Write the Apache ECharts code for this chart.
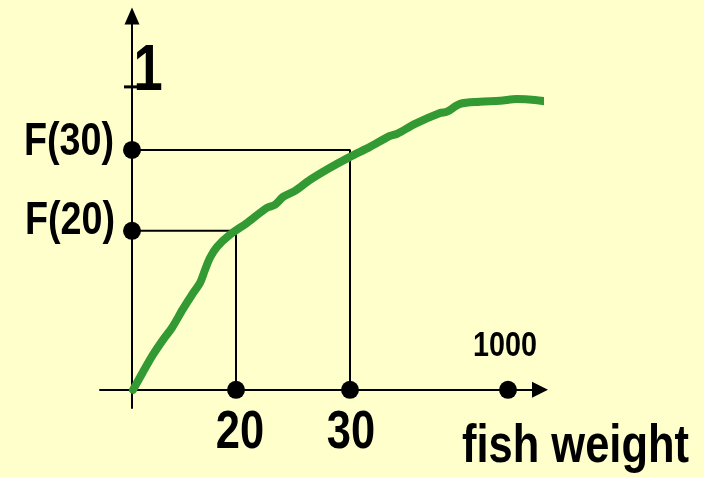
<!DOCTYPE html>
<html>
<head>
<meta charset="utf-8">
<script src="https://cdn.jsdelivr.net/npm/echarts@6/dist/echarts.min.js"></script>
<style>
html,body{margin:0;padding:0;background:#FFFFCC;}
#c{width:704px;height:477px;}
</style>
</head>
<body>
<div id="c"></div>
<script>
// Schematic CDF of fish weight (x in schematic axis units, y = cumulative probability)
var curveX = [1, 11, 21, 31, 40, 51, 60, 68, 73, 78, 85, 98, 115, 135, 143, 151, 163, 178, 198, 218, 238, 258, 265, 283, 308, 315, 328, 348, 368, 385, 403, 418];
var curveY = [0, 0.059, 0.116, 0.165, 0.205, 0.267, 0.314, 0.353, 0.396, 0.436, 0.472, 0.512, 0.551, 0.601, 0.611, 0.637, 0.657, 0.693, 0.733, 0.769, 0.802, 0.838, 0.845, 0.878, 0.914, 0.918, 0.944, 0.951, 0.954, 0.960, 0.957, 0.950];

// x-axis marked weights (schematic positions) and their labels
var xMarkPos = [104, 218, 376];
var xMarkLabels = ['20', '30', '1000'];

// y-axis marked probabilities and labels
var yMarkVal = [0.525, 0.792];
var yMarkLabels = ['F(20)', 'F(30)'];
var yTopVal = 1;
var yTopLabel = '1';
var xAxisTitle = 'fish weight';

var FONT = '"Liberation Sans", Arial, sans-serif';
var NARROW = 0.82;

var curveData = curveX.map(function (x, i) { return [x, curveY[i]]; });
var dotData = xMarkPos.map(function (x) { return [x, 0]; })
  .concat(yMarkVal.map(function (v) { return [0, v]; }));

var dropLines = [];
[0, 1].forEach(function (i) {
  dropLines.push({
    type: 'line', symbol: 'none', silent: true, z: 2,
    lineStyle: { color: '#000', width: 2 },
    data: [[0, yMarkVal[i]], [xMarkPos[i], yMarkVal[i]], [xMarkPos[i], 0]]
  });
});

var option = {
  backgroundColor: '#FFFFCC',
  animation: false,
  grid: { left: 100, right: 164, top: 16, bottom: 69 },
  xAxis: {
    type: 'value', min: -32, max: 408,
    axisLine: { show: true, onZero: true, symbol: ['none', 'triangle'], symbolSize: [16, 16], lineStyle: { color: '#000', width: 2 } },
    axisTick: { show: false }, axisLabel: { show: false }, splitLine: { show: false }
  },
  yAxis: {
    type: 'value', min: -0.06, max: 1.234,
    axisLine: { show: true, onZero: true, symbol: ['none', 'triangle'], symbolSize: [15, 17], lineStyle: { color: '#000', width: 2 } },
    axisTick: { show: false }, axisLabel: { show: false }, splitLine: { show: false }
  },
  series: dropLines.concat([
    {
      // tick mark at probability 1, crossing the y-axis
      type: 'line', symbol: 'none', silent: true, z: 4, clip: false,
      lineStyle: { color: '#000', width: 3 },
      data: [[-8, yTopVal], [7, yTopVal]]
    },
    {
      type: 'line', name: 'F', data: curveData, symbol: 'none', smooth: 0.3, clip: false, z: 3,
      lineStyle: { color: '#339933', width: 8, cap: 'round', join: 'round' }
    },
    {
      type: 'scatter', data: dotData, symbolSize: 18, z: 5, clip: false,
      itemStyle: { color: '#000', opacity: 1 }
    }
  ])
};
var chart = echarts.init(document.getElementById('c'));
chart.setOption(option);

function px(p) { return chart.convertToPixel({ gridIndex: 0 }, p); }
function txt(text, p, dx, dy, size, align) {
  return {
    type: 'text', x: p[0] + dx, y: p[1] + dy, scaleX: NARROW, z: 10,
    style: { text: text, fill: '#000', fontSize: size, fontWeight: 'bold', fontFamily: FONT,
      align: align || 'center', verticalAlign: 'middle' }
  };
}
var g = [];
g.push(txt(xMarkLabels[0], px([xMarkPos[0], 0]), 4, 44, 53));
g.push(txt(xMarkLabels[1], px([xMarkPos[1], 0]), 1, 44, 53));
g.push(txt(xMarkLabels[2], px([xMarkPos[2], 0]), -3, -43, 35));
g.push(txt(yMarkLabels[0], px([0, yMarkVal[0]]), -17, -9.5, 46, 'right'));
g.push(txt(yMarkLabels[1], px([0, yMarkVal[1]]), -18, -7.5, 46, 'right'));
g.push(txt(yTopLabel, px([0, yTopVal]), 16, -15, 64));
var xEnd = px([xMarkPos[2], 0]);
g.push(txt(xAxisTitle, xEnd, -46, 58, 53, 'left'));
chart.setOption({ graphic: g });
</script>
</body>
</html>
